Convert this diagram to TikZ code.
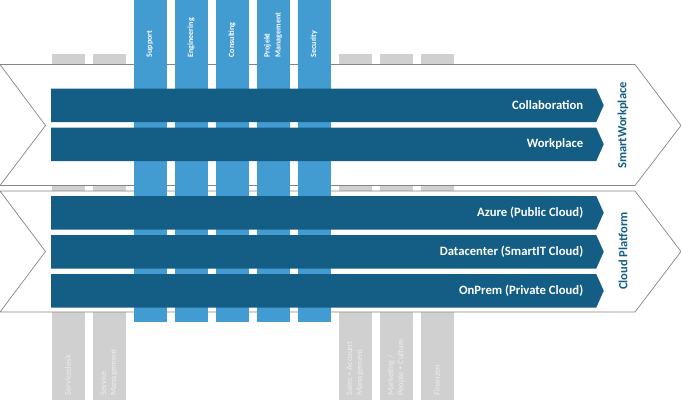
\documentclass[tikz,border=0pt]{standalone}
\usepackage{fontspec}
\setmainfont{Carlito}
\usepackage{xcolor}
\usetikzlibrary{shapes.symbols,positioning}

\definecolor{barblue}{HTML}{145E86}
\definecolor{colblue}{HTML}{429BD1}
\definecolor{colgrey}{HTML}{D0D0D0}
\definecolor{txtgrey}{HTML}{EDEDED}
\definecolor{chevgrey}{HTML}{858585}

\begin{document}
\begin{tikzpicture}[x=1pt,y=-1pt,node distance=41pt,
    colbox/.style={rectangle,inner sep=0pt,minimum width=33pt},
    greybox/.style={colbox,fill=colgrey,minimum height=346pt},
    bluebox/.style={colbox,fill=colblue,minimum height=322pt},
    bluetext/.style={rotate=90,anchor=west,align=left,inner sep=0pt,text=white,font=\fontsize{8}{11}\selectfont\bfseries},
    greytext/.style={rotate=90,anchor=west,align=left,inner sep=0pt,text=txtgrey,font=\fontsize{8.5}{10}\selectfont},
    bar/.style={signal,signal to=east,signal pointer angle=132,fill=barblue,inner sep=0pt,minimum width=552.5pt,minimum height=33.5pt},
    bartext/.style={anchor=east,inner sep=0pt,text=white,font=\fontsize{12.7}{14}\selectfont\bfseries},
    grouptext/.style={rotate=90,inner sep=0pt,text=barblue,font=\fontsize{12.5}{14}\selectfont\bfseries},
    chevron/.style={draw=chevgrey,fill=white,line width=0.7pt}]

    \useasboundingbox (0,0) rectangle (681,400);

    \node[greybox] (g0) at (68,227){};
    \node[greybox] (g1) [right of = g0]{};
    \node[greybox] (g2) at (355,227){};
    \foreach \curr [
        evaluate = \curr as \prev using {int(\curr-1)},
    ] in {3,4}{
        \node[greybox] (g\curr) [right of = g\prev]{};
    }

    \draw[chevron] (0,64.5) -- (635,64.5) -- (681,125.5) -- (635,185.5) -- (0,185.5) -- (45.5,125.5) -- cycle;
    \draw[chevron] (0,191) -- (635,191) -- (681,251.5) -- (635,312) -- (0,312) -- (45.5,251.5) -- cycle;

    \node[bluebox] (c0) at (150,161){};
    \foreach \curr [
        evaluate = \curr as \prev using {int(\curr-1)},
    ] in {1,...,4}{
        \node[bluebox] (c\curr) [right of = c\prev]{};
    }

    \node[bar] (collab) at (323.75,105.25){};
    \node[bar] (work) at (323.75,144.25){};
    \node[bar] (azure) at (323.75,212.75){};
    \node[bar] (dc) at (323.75,251.75){};
    \node[bar] (onprem) at (323.75,290.75){};

    \foreach \barname/\txt in {collab/Collaboration,work/Workplace,azure/Azure (Public Cloud),dc/Datacenter (SmartIT Cloud),onprem/OnPrem (Private Cloud)}{
        \node[bartext] (t\barname) at ([xshift=-20.5pt]\barname.east){\txt};
    }

    \foreach \curr/\txt in {0/Support,1/Engineering,2/Consulting,3/Projekt\\Management,4/Security}{
        \node[bluetext] (ct\curr) at (c\curr |- 0,57.5){\txt};
    }

    \foreach \curr/\txt in {0/Servicedesk,1/Service\\Management,2/Sales + Account\\Management,3/{Marketing /\\People + Culture},4/Finanzen}{
        \node[greytext] (gt\curr) at (g\curr |- 0,396){\txt};
    }

    \node[grouptext] (smart) at (623,125.5){SmartWorkplace};
    \node[grouptext] (cloud) at (623,251){Cloud Platform};

\end{tikzpicture}
\end{document}
